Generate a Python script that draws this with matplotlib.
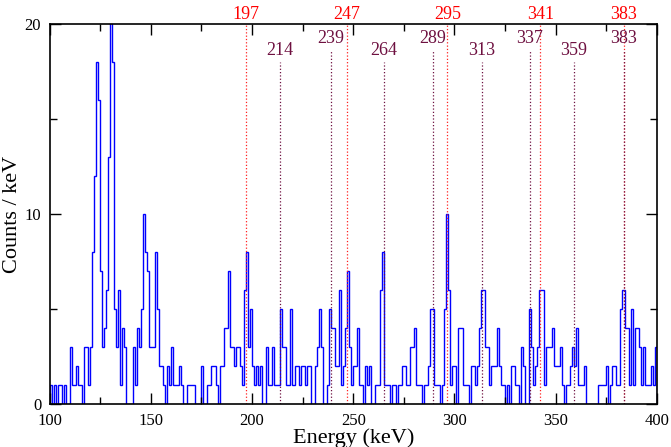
import numpy as np
import matplotlib
matplotlib.use("Agg")
import matplotlib.pyplot as plt

# Histogram: 1 keV bins from 100 to 400 keV
bin_start = 100
counts = [
    1, 0, 1, 0, 1, 1, 0, 1, 0, 0,      # 100-109
    3, 1, 1, 2, 1, 1, 0, 3, 3, 1,      # 110-119
    3, 8, 12, 18, 16, 7, 3, 4, 6, 13,  # 120-129
    21, 18, 5, 3, 6, 1, 4, 3, 0, 0,    # 130-139
    0, 3, 1, 4, 3, 5, 10, 8, 7, 3,     # 140-149
    3, 3, 8, 5, 2, 2, 1, 0, 2, 1,      # 150-159
    3, 1, 1, 1, 2, 1, 0, 0, 1, 1,      # 160-169
    1, 1, 0, 0, 0, 2, 0, 0, 1, 1,      # 170-179
    2, 2, 1, 0, 2, 2, 4, 4, 7, 3,      # 180-189
    3, 2, 3, 3, 2, 1, 6, 8, 3, 5,      # 190-199
    2, 1, 2, 1, 2, 0, 0, 3, 1, 1,      # 200-209
    3, 1, 1, 1, 5, 3, 3, 1, 1, 5,      # 210-219
    1, 2, 2, 1, 2, 2, 1, 2, 2, 0,      # 220-229
    0, 2, 3, 5, 3, 0, 0, 1, 5, 4,      # 230-239
    4, 2, 2, 6, 1, 2, 4, 7, 3, 1,      # 240-249
    2, 2, 4, 1, 1, 0, 2, 1, 2, 0,      # 250-259
    0, 1, 1, 6, 8, 1, 1, 1, 0, 1,      # 260-269
    1, 0, 1, 1, 2, 2, 1, 1, 3, 3,      # 270-279
    4, 1, 1, 1, 0, 1, 1, 2, 5, 5,      # 280-289
    1, 1, 1, 0, 1, 5, 10, 6, 1, 2,     # 290-299
    2, 0, 4, 4, 1, 1, 1, 0, 2, 2,      # 300-309
    1, 2, 4, 6, 6, 3, 3, 1, 2, 2,      # 310-319
    2, 4, 2, 1, 1, 0, 1, 0, 2, 2,      # 320-329
    1, 1, 0, 3, 2, 0, 0, 5, 3, 1,      # 330-339
    2, 3, 6, 6, 1, 3, 3, 3, 4, 2,      # 340-349
    2, 2, 3, 1, 0, 1, 1, 2, 3, 2,      # 350-359
    4, 1, 1, 1, 2, 0, 0, 0, 0, 0,      # 360-369
    0, 1, 1, 1, 1, 2, 0, 1, 2, 2,      # 370-379
    1, 1, 5, 6, 4, 4, 1, 5, 1, 4,      # 380-389
    4, 3, 1, 3, 1, 1, 1, 2, 1, 3,      # 390-399
]

# Red markers (labels above the frame)
red_lines = [197, 247, 296.5, 342.5, 383.5]
red_labels = ["197", "247", "295", "341", "383"]

# Purple markers (labels inside the frame)
purple_lines = [213.8, 239, 265, 289.3, 313.7, 337.3, 359, 383.5]
purple_labels = ["214", "239", "264", "289", "313", "337", "359", "383"]
purple_high = [False, True, False, True, False, True, False, True]

plt.rcParams['font.family'] = ['Liberation Serif', 'DejaVu Serif']

fig = plt.figure(figsize=(6.71, 4.47), dpi=100)
ax = fig.add_axes([0.0738, 0.0955, 0.979 - 0.0738, 0.947 - 0.0955])

edges = np.arange(bin_start, bin_start + len(counts) + 1)
ax.stairs(counts, edges, color='#0000ff', lw=1.0, baseline=0)

ax.set_xlim(100, 400)
ax.set_ylim(0, 20)

purple = '#6e1040'
for xv, lab in zip(red_lines, red_labels):
    ax.plot([xv, xv], [0, 20], ls=':', color='#ff2020', lw=0.9, zorder=1)
    ax.text(xv, 20.05, lab, color='#ff0000', ha='center', va='bottom', fontsize=13)

for xv, lab, hi in zip(purple_lines, purple_labels, purple_high):
    ytop = 18.6 if hi else 18.0
    ax.plot([xv, xv], [0, ytop], ls=':', color=purple, lw=0.9, zorder=1)
    ax.text(xv, ytop + 0.15, lab, color=purple, ha='center', va='bottom', fontsize=13)

ax.set_xticks([100, 150, 200, 250, 300, 350, 400])
ax.set_xticks([125, 175, 225, 275, 325, 375], minor=True)
ax.set_yticks([0, 10, 20])
ax.set_yticks([5, 15], minor=True)
ax.tick_params(which='both', direction='in', top=True, right=True, labelsize=12)
ax.tick_params(which='major', length=8, width=1)
ax.tick_params(which='minor', length=5, width=1)
ax.tick_params(axis='x', pad=6)
ax.tick_params(axis='y', pad=6)
for s in ax.spines.values():
    s.set_linewidth(1.2)

ax.set_xlabel('Energy (keV)', fontsize=16, labelpad=0)
ax.set_ylabel('Counts / keV', fontsize=16, labelpad=2)

fig.savefig('out.png', dpi=100)
